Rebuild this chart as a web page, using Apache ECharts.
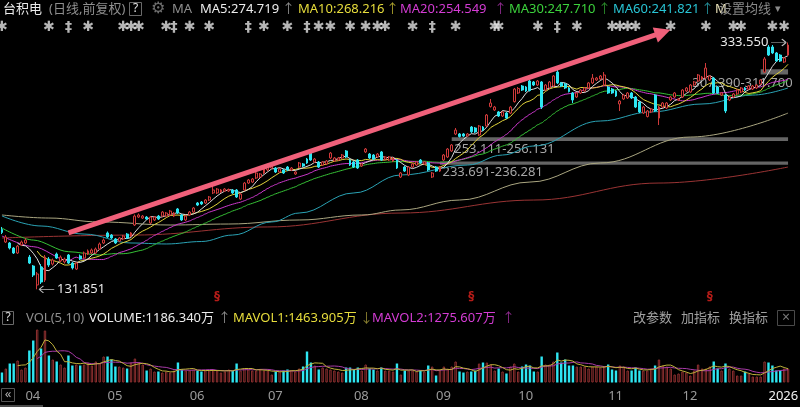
<!DOCTYPE html>
<html><head><meta charset="utf-8">
<script src="https://cdn.jsdelivr.net/npm/echarts@6/dist/echarts.min.js"></script>
<style>html,body{margin:0;padding:0;background:#000;}#c{width:800px;height:407px;}</style>
</head><body><div id="c"></div>
<script>
// ---------- DATA ----------
const monthDays = [
 ['2025-03',[25,26,27,28,31]],
 ['2025-04',[1,2,3,4,7,8,9,10,11,14,15,16,17,21,22,23,24,25,28,29,30]],
 ['2025-05',[1,2,5,6,7,8,9,12,13,14,15,16,19,20,21,22,23,27,28,29,30]],
 ['2025-06',[2,3,4,5,6,9,10,11,12,13,16,17,18,20,23,24,25,26,27,30]],
 ['2025-07',[1,2,3,7,8,9,10,11,14,15,16,17,18,21,22,23,24,25,28,29,30,31]],
 ['2025-08',[1,4,5,6,7,8,11,12,13,14,15,18,19,20,21,22,25,26,27,28,29]],
 ['2025-09',[2,3,4,5,8,9,10,11,12,15,16,17,18,19,22,23,24,25,26,29,30]],
 ['2025-10',[1,2,3,6,7,8,9,10,13,14,15,16,17,20,21,22,23,24,27,28,29,30,31]],
 ['2025-11',[3,4,5,6,7,10,11,12,13,14,17,18,19,20,21,24,25,26,28]],
 ['2025-12',[1,2,3,4,5,8,9,10,11,12,15,16,17,18,19,22,23,24,26,29,30,31]],
 ['2026-01',[2,5,6,7,8,9,12]]
];
const open = [180.7,170.5,169.7,165.6,161.5,168.1,169.7,158.2,150.9,135.4,
150.1,139.4,156.6,152.5,160.7,155.0,154.2,159.9,153.3,148.4,
159.1,157.4,160.7,161.5,161.5,164.8,169.7,177.9,176.2,173.0,
171.3,173.0,177.0,175.4,184.4,190.9,190.1,190.9,186.0,188.5,
191.7,191.7,191.7,192.6,191.7,197.5,192.6,188.5,192.6,195.0,
202.4,203.2,202.4,204.8,210.6,210.6,211.4,212.2,212.2,213.0,
213.0,205.6,213.0,218.7,219.5,222.8,223.6,226.9,229.4,231.0,
231.0,227.7,229.4,231.8,229.4,226.1,231.8,234.3,238.3,243.2,
235.9,235.9,233.4,234.3,239.2,236.7,237.5,239.2,244.9,237.5,
235.9,237.5,232.6,244.1,242.4,241.6,240.0,244.1,238.3,237.5,
236.7,237.5,223.6,231.8,225.3,231.8,233.4,237.5,234.3,235.1,
223.6,231.8,228.5,237.5,240.0,244.9,258.8,258.8,258.8,257.1,
264.5,263.7,258.0,264.5,265.3,281.2,278.4,276.8,273.5,275.9,
275.9,285.2,292.3,298.0,297.2,302.1,301.3,298.8,301.3,294.7,
296.4,298.0,309.4,300.5,299.6,296.4,292.3,289.0,292.3,293.9,
296.4,300.5,302.9,303.7,298.8,297.2,295.5,293.9,283.3,287.4,
288.2,292.3,289.0,284.9,275.9,273.1,276.8,290.6,271.8,280.8,
280.0,286.6,289.0,286.6,289.0,293.9,293.1,298.8,302.1,303.7,
304.5,302.9,304.5,297.2,290.6,290.6,286.6,289.0,291.5,293.1,
296.4,295.5,295.5,296.4,299.6,309.4,329.9,329.9,325.0,323.3,
317.6,323.3];
const close = [178.3,174.6,165.6,161.5,167.2,170.5,172.1,153.3,143.5,144.4,
137.8,158.2,151.7,155.8,157.4,158.2,156.6,153.3,149.3,153.3,
156.6,161.5,163.2,164.0,164.8,168.9,172.1,174.6,173.8,169.7,
173.8,175.4,173.8,177.9,191.7,192.6,191.7,189.3,190.9,190.9,
189.3,195.0,194.2,195.8,194.2,194.2,188.5,191.7,195.0,198.3,
200.7,201.6,204.8,207.3,213.0,213.8,213.0,213.8,213.4,210.6,
207.3,209.7,218.7,221.2,222.0,226.9,226.1,231.8,233.4,233.4,
227.7,230.2,226.9,229.4,231.0,227.7,235.1,232.6,235.1,237.5,
238.3,231.8,235.9,236.7,243.2,239.2,239.2,241.6,240.0,233.4,
231.8,231.0,234.3,246.5,239.2,238.3,242.4,237.5,240.0,240.0,
239.2,231.0,226.9,228.5,231.8,234.3,235.9,235.1,235.9,229.4,
226.9,228.5,231.8,241.6,246.5,249.8,262.0,256.7,257.1,258.8,
260.6,260.4,265.3,262.0,274.3,284.1,280.8,273.5,276.8,271.8,
280.8,295.5,296.0,294.7,293.9,294.3,298.8,302.1,280.8,298.8,
301.3,306.2,300.5,298.0,296.4,293.5,286.6,292.3,294.7,296.4,
300.5,304.5,304.5,306.2,307.0,292.3,292.3,289.8,285.7,290.6,
292.3,288.2,280.8,276.8,280.8,277.6,279.2,277.6,280.8,284.1,
284.1,289.0,292.3,287.4,294.7,296.4,298.8,301.3,307.0,305.4,
312.7,306.2,292.3,292.3,292.3,277.6,289.0,291.5,294.7,296.4,
294.7,298.0,298.0,298.8,302.9,320.1,323.3,325.0,318.4,318.4,
320.9,331.5];
const high = [182.8,176.2,170.5,166.4,168.1,171.7,173.4,159.9,151.7,146.0,
152.5,159.9,158.2,157.0,161.9,159.5,157.8,160.7,154.2,154.2,
160.3,162.7,164.4,165.2,166.0,170.1,173.4,179.1,177.0,173.8,
174.6,176.2,177.9,178.7,193.0,193.8,192.6,191.7,191.7,191.7,
192.6,195.8,195.0,196.7,195.0,198.3,193.4,192.6,195.8,199.1,
203.2,204.0,205.6,208.1,216.3,214.6,213.8,214.6,214.2,213.8,
213.8,210.6,219.5,222.0,222.8,227.7,226.9,232.6,234.3,234.3,
231.8,231.0,230.2,232.6,231.8,228.5,235.9,235.1,239.2,244.9,
239.2,236.7,236.7,237.5,244.1,240.0,240.0,242.4,245.7,238.3,
236.7,238.3,235.1,247.3,243.2,242.4,243.2,244.9,240.8,240.8,
240.0,238.3,227.7,232.6,232.6,235.1,236.7,238.3,236.7,235.9,
227.7,232.6,232.6,242.4,247.3,250.6,263.7,259.6,259.6,259.6,
265.3,264.5,266.1,265.3,275.1,287.4,281.7,277.6,277.6,276.8,
281.7,296.4,297.2,298.8,298.0,302.9,302.1,302.9,302.1,299.6,
302.1,307.0,311.7,301.3,300.5,297.2,293.1,293.1,295.5,297.2,
301.3,307.8,305.4,307.0,309.4,298.0,296.4,294.7,286.6,291.5,
293.1,293.1,289.8,285.7,281.7,278.4,280.0,291.5,281.7,284.9,
284.9,289.8,293.1,288.2,295.5,297.2,299.6,302.1,307.8,306.2,
316.8,307.0,305.4,298.0,293.1,291.5,289.8,292.3,295.5,297.2,
297.2,298.8,298.8,299.6,303.7,321.7,331.5,331.5,325.8,324.1,
321.7,333.55];
const low = [177.0,169.7,164.4,160.7,160.7,167.2,168.9,152.5,141.9,131.851,
136.2,137.8,150.1,151.3,156.6,154.2,152.9,152.5,148.0,147.6,
155.8,156.6,159.9,160.7,160.7,164.0,168.9,173.8,173.0,168.9,
170.5,172.1,173.0,174.6,183.6,190.1,189.3,188.5,185.2,187.7,
188.5,190.9,190.9,191.7,190.9,193.4,187.7,187.7,191.7,194.2,
199.9,200.7,201.6,204.0,209.7,209.7,210.6,211.4,211.4,209.7,
206.5,204.8,212.2,217.9,218.7,222.0,222.8,226.1,228.5,230.2,
226.9,226.9,226.1,228.5,228.5,225.3,231.0,231.8,234.3,236.7,
235.1,231.0,232.6,233.4,238.3,235.9,236.7,238.3,239.2,232.6,
231.0,230.2,231.8,243.2,238.3,237.5,239.2,236.7,237.5,236.7,
235.9,230.2,222.8,227.7,224.4,231.0,232.6,234.3,233.4,228.5,
222.8,227.7,227.7,236.7,239.2,244.1,257.9,255.9,256.3,256.3,
259.6,259.6,257.1,261.2,264.5,280.4,277.6,272.7,272.7,271.0,
275.1,284.5,291.5,293.9,293.1,293.5,298.0,298.0,279.2,293.9,
295.5,297.2,299.6,297.2,295.5,292.7,284.1,288.2,291.5,293.1,
295.5,299.6,302.1,302.9,298.0,291.5,291.5,289.0,277.6,286.6,
287.4,287.4,280.0,275.9,275.1,272.3,275.9,276.8,266.1,280.0,
279.2,285.7,288.2,285.7,288.2,293.1,292.3,298.0,301.3,302.9,
303.7,302.1,291.5,291.5,289.8,275.9,285.7,288.2,290.6,292.3,
293.9,294.7,294.7,295.5,298.8,308.6,322.5,324.1,317.6,317.6,
316.8,322.5];
// volume, 万股
const volume = [847,1186,1609,1609,1863,1101,1270,2710,3557,4489,
2880,4404,2287,1948,1779,1525,1270,2287,1440,1525,
1440,1525,1694,1440,1779,1609,2202,2202,1948,1355,
1355,1270,1186,1694,2033,1694,1525,1016,1186,932,
932,847,932,847,1016,1694,1101,1016,1016,1101,
1016,932,1016,1016,1101,1016,847,932,1101,1016,
1609,1016,1186,1101,1016,1016,1101,1016,1016,678,
932,932,1016,1101,1016,932,1186,1355,2626,1694,
1440,1101,1270,1186,1101,1016,932,847,1270,1270,
1101,1270,1016,1525,1186,1101,1016,1270,1016,1016,
932,1609,678,1016,1016,1016,932,1016,932,1440,
1355,593,1016,1355,1186,1355,1779,932,847,932,
932,1016,1609,1694,1694,1525,1016,1186.34,932,762,
1355,1609,932,1355,1525,1440,932,932,2202,1525,
1525,1779,2541,1694,1948,1440,1440,1355,1355,1355,
1186,1355,1355,1270,1355,1525,1101,1016,1440,1355,
1016,1016,1270,1016,1016,1016,1186,1440,1948,1440,
1355,1186,678,762,932,847,593,1016,1525,1186,
1186,1355,1779,1186,1016,1609,1186,1016,593,593,
932,762,508,508,508,1779,1694,1440,1016,1016,
1186,1186];
// moving-average values ([candle index, price])
const ma20Early = [[0,175.4],[8,166.7],[17,155.2]];
const ma30Early = [[0,181.9],[8,172.1],[17,162.6],[25,159.9]];
const ma60Read = [[0,191.8],[10,183.6],[21,177.0],[33,169.7],[42,168.9],[51,170.9],[59,176.2],[69,186.9],[76,194.2],[90,210.6],[102,225.3],[119,233.4],[128,241.6],[136,249.0],[153,269.4],[166,276.8],[179,283.3],[192,290.6],[201,296.4]];
const ma120Read = [[0,192.6],[12,190.1],[25,186.9],[43,184.4],[58,185.2],[76,188.5],[92,192.6],[102,196.7],[117,204.8],[135,219.5],[153,235.1],[176,256.3],[201,275.9]];
const ma250Read = [[0,173.8],[34,176.2],[68,182.8],[102,194.2],[136,204.8],[168,218.7],[201,231.8]];
// event markers row
const eventIdx = [0,12,17,22,31,33,35,42,44,48,53,63,67,73,78,81,84,89,93,96,98,105,110,116,126,127,137,142,147,156,158,160,162,171,180,187,189,197,200];
const eventGlyph = ['✱','✱','‡','✱','✱','✱','✱','✱','‡','✱','✱','‡','✱','✱','‡','✱','✱','✱','✱','✱','✱','✱','‡','✱','✱','✱','✱','‡','✱','✱','✱','✱','✱','✱','✱','✱','✱','✱','✱'];
const divIdx = [55,120,181];
// price zones
const zones = [
  {from:115, lo:253.111, hi:256.131, text:'253.111-256.131'},
  {from:112, lo:233.691, hi:236.281, text:'233.691-236.281'},
  {from:194, lo:307.390, hi:311.700, text:'307.390-311.700'}
];
// trend arrow ends ([candle index, price])
const trendFrom = [17, 177.9];
const trendTo = [169, 341.8];
// header texts
const headerTexts = [
 ['台积电',3,'#ececec'],['(日线,前复权)',49,'#8e8e8e'],['MA',172,'#8e8e8e'],
 ['MA5:274.719',200,'#ececec'],['↑',282,'#8a8a8a'],
 ['MA10:268.216',298,'#e6dc3c'],['↑',386,'#a89e2c'],
 ['MA20:254.549',400,'#d43cd4'],['↑',494,'#8c2a8c'],
 ['MA30:247.710',509,'#3cd23c'],['↑',598,'#2a8a2a'],
 ['MA60:241.821',613,'#28c4d4'],['↑',701,'#238c96'],
 ['M',715,'#e8e0b8'],['设置均线',719,'#8a8a8a']
];
const volTexts = [
 ['VOL(5,10)',26,'#8e8e8e'],['VOLUME:1186.340万',89,'#ececec'],['↑',218,'#8a8a8a'],
 ['MAVOL1:1463.905万',233,'#e6dc3c'],['↓',360,'#8a8030'],
 ['MAVOL2:1275.607万',372,'#d43cd4'],['↑',502,'#8c2a8c'],
 ['改参数',633,'#a0a0a0'],['加指标',681,'#a0a0a0'],['换指标',729,'#a0a0a0']
];

// ---------- BUILD ----------
const FONT = "'Noto Sans','Noto Sans CJK SC',sans-serif";
const dates = [];
const labelIdx = new Set();
monthDays.forEach(([m, ds], i) => {
  if (i > 0) labelIdx.add(dates.length + 1);
  ds.forEach(d => dates.push(m + '-' + String(d).padStart(2, '0')));
});
function sma(arr, n) {
  const out = [];
  for (let i = n - 1; i < arr.length; i++) {
    let s = 0; for (let j = i - n + 1; j <= i; j++) s += arr[j];
    out.push([i, +(s / n).toFixed(3)]);
  }
  return out;
}
const UP = '#d03a3a', DOWN = '#2ee6f2';
let minI = 0, maxI = 0;
low.forEach((v, i) => { if (v < low[minI]) minI = i; });
high.forEach((v, i) => { if (v > high[maxI]) maxI = i; });

const xBase = (g) => ({type:'category', gridIndex:g, data:dates, boundaryGap:true,
  axisLine:{show:false}, axisTick:{show:false}, axisLabel:{show:false}, splitLine:{show:false}});
const xAxes = [xBase(0), xBase(1), xBase(2), xBase(3)];
xAxes[1].axisLabel = {show:true, interval:(i) => labelIdx.has(i), align:'left', margin:7,
  color:'#9a9a9a', fontSize:13, fontFamily:FONT,
  formatter:(v) => { const p = v.split('-'); return p[1] === '01' ? '{y|' + p[0] + '}' : p[1]; },
  rich:{y:{color:'#f2f2f2', fontSize:13, fontFamily:FONT}}};

const line = (name, data, color, smooth, xi) => ({name, type:'line', xAxisIndex:xi||0, yAxisIndex:xi||0,
  data, showSymbol:false, symbol:'none', smooth:smooth||false, smoothMonotone:'x', silent:true,
  lineStyle:{width:1, color}, z:2});

const series = [
  line('MA250', ma250Read, '#9a3434', 0.4),
  line('MA120', ma120Read, '#aaa680', 0.4),
  line('MA60', ma60Read, '#2aa2b4', 0.4),
  line('MA30', ma30Early.concat(sma(close, 30)), '#36c236', 0.3),
  line('MA20', ma20Early.concat(sma(close, 20)), '#cc38cc', 0.3),
  line('MA10', sma(close, 10), '#e0d23a', false),
  line('MA5', sma(close, 5), '#dcdcdc', false),
  {
    type:'candlestick', xAxisIndex:0, yAxisIndex:0, z:3, barWidth:2.4, silent:true,
    data: dates.map((d, i) => [open[i], close[i], low[i], high[i]]),
    itemStyle:{color:'#000', color0:DOWN, borderColor:UP, borderColor0:DOWN, borderWidth:1},
    markArea:{silent:true, itemStyle:{color:'rgba(130,130,130,0.78)'},
      data: zones.map((z, i) => [
        {xAxis:dates[z.from], yAxis:z.lo, label:{show:true, formatter:z.text,
          position: i === 2 ? [32, 7.4] : [2.5, i === 0 ? 5.4 : 4.3],
          align: i === 2 ? 'right' : 'left', verticalAlign:'top',
          color:'#a6a6a6', fontSize:13, fontFamily:FONT}},
        {xAxis:dates[dates.length - 1], yAxis:z.hi}
      ])},
    markLine:{silent:true, symbol:['none','triangle'], symbolSize:[16,16],
      lineStyle:{color:'#f0607a', width:5, type:'solid', opacity:1},
      label:{show:false}, emphasis:{disabled:true},
      data:[[{coord:[dates[trendFrom[0]], trendFrom[1]]}, {coord:[dates[trendTo[0]], trendTo[1]]}]]},
    markPoint:{silent:true, data:[
      {coord:[dates[minI], low[minI]], value:low[minI],
       symbol:'path://M0,4 L18,4 M0,4 L5,0 M0,4 L5,8', symbolSize:[15,7], symbolOffset:[9.6,0],
       itemStyle:{color:'rgba(0,0,0,0)', borderColor:'#bdbdbd', borderWidth:1},
       label:{show:true, position:'right', distance:2, formatter:low[minI].toFixed(3),
         color:'#e8e8e8', fontSize:13, fontFamily:FONT}},
      {coord:[dates[maxI], high[maxI]], value:high[maxI],
       symbol:'path://M0,4 L18,4 M18,4 L13,0 M18,4 L13,8', symbolSize:[15,7], symbolOffset:[-9.5,0],
       itemStyle:{color:'rgba(0,0,0,0)', borderColor:'#bdbdbd', borderWidth:1},
       label:{show:true, position:'left', distance:2, formatter:high[maxI].toFixed(3),
         color:'#e8e8e8', fontSize:13, fontFamily:FONT}}
    ]}
  },
  {
    type:'bar', xAxisIndex:1, yAxisIndex:1, barWidth:2.4, silent:true,
    data: volume.map((v, i) => ({value:v, itemStyle: close[i] >= open[i]
      ? {color:'#000', borderColor:'#8e3030', borderWidth:1}
      : {color:DOWN, borderColor:DOWN, borderWidth:0}}))
  },
  line('MAVOL2', sma(volume, 10), '#a83aa8', false, 1),
  line('MAVOL1', sma(volume, 5), '#bfb23a', false, 1),
  {
    type:'scatter', xAxisIndex:2, yAxisIndex:2, silent:true, symbolSize:1,
    itemStyle:{color:'rgba(0,0,0,0)'},
    data: eventIdx.map(k => [k, 0.5]),
    label:{show:true, position:'inside', formatter:(p) => eventGlyph[p.dataIndex],
      color:'#e4e4e4', fontSize:14, fontWeight:'bold', fontFamily:'DejaVu Sans'}
  },
  {
    type:'scatter', xAxisIndex:3, yAxisIndex:3, silent:true, symbolSize:1,
    itemStyle:{color:'rgba(0,0,0,0)'},
    data: divIdx.map(k => [k, 0.5]),
    label:{show:true, position:'inside', formatter:'§', color:'#e2231e', fontSize:12,
      fontWeight:'bold', fontFamily:'DejaVu Sans'}
  }
];

const txt = (text, x, y, color, size, align, family) => ({type:'text', x, y, silent:true,
  style:{text, fill:color, font:(size||13) + 'px ' + (family||FONT), align:align||'left', verticalAlign:'middle'}});
const box = (x, y, w, h, stroke) => ({type:'rect', silent:true, shape:{x, y, width:w, height:h},
  style:{fill:'none', stroke, lineWidth:1}});
const graphic = []
  .concat(headerTexts.map(t => txt(t[0], t[1], 9, t[2])))
  .concat(volTexts.map(t => txt(t[0], t[1], 318, t[2])))
  .concat([
    box(129.5, 2.5, 12, 13, '#6a6a6a'), txt('?', 135.5, 9, '#e0e0e0', 12, 'center'),
    txt('⚙', 151, 9, '#6e6e6e', 16, 'left', 'DejaVu Sans'),
    txt('▾', 775, 9, '#8a8a8a', 11, 'left', 'DejaVu Sans'),
    box(2.5, 311.5, 11, 13, '#6a6a6a'), txt('?', 8, 318, '#e0e0e0', 12, 'center'),
    box(777.5, 310.5, 17, 15, '#4a4a4a'), txt('×', 786, 318, '#7a7a7a', 14, 'center'),
    box(1.5, 388.5, 13, 13, '#555555'), txt('«', 8, 394.5, '#aaaaaa', 13, 'center'),
    {type:'rect', silent:true, shape:{x:0, y:405, width:43, height:2}, style:{fill:'#4a4a4a'}}
  ]);

const option = {
  backgroundColor:'#000', animation:false,
  grid:[
    {left:0, right:10, top:28.5, height:271.5, containLabel:false, outerBoundsMode:'none'},
    {left:0, right:10, top:322.3, height:60.2, containLabel:false, outerBoundsMode:'none'},
    {left:0, right:10, top:20, height:14, containLabel:false, outerBoundsMode:'none'},
    {left:0, right:10, top:291, height:12, containLabel:false, outerBoundsMode:'none'}
  ],
  xAxis:xAxes,
  yAxis:[
    {gridIndex:0, min:123.11, max:345, show:false},
    {gridIndex:1, min:0, max:5100, show:false},
    {gridIndex:2, min:0, max:1, show:false},
    {gridIndex:3, min:0, max:1, show:false}
  ],
  series, graphic
};
const chart = echarts.init(document.getElementById('c'), null, {renderer:'canvas'});
chart.setOption(option);
</script></body></html>
